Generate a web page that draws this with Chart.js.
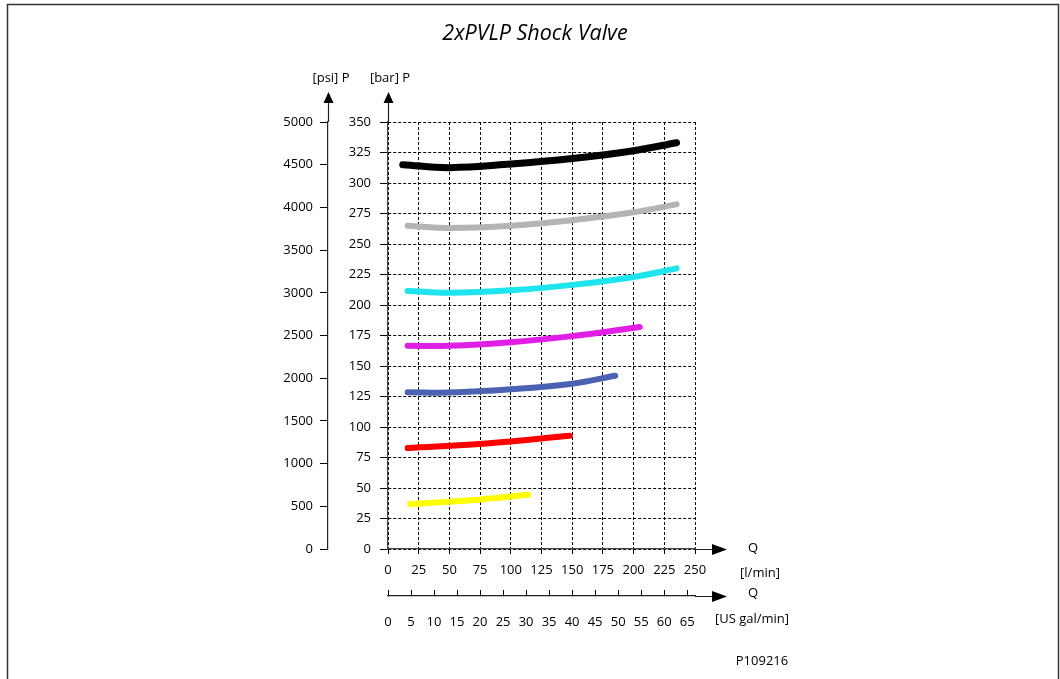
<!DOCTYPE html>
<html>
<head>
<meta charset="utf-8">
<script src="https://cdn.jsdelivr.net/npm/chart.js@4/dist/chart.umd.min.js"></script>
<style>
  html, body { margin: 0; padding: 0; background: #fff; }
  #wrap { width: 1060px; height: 679px; }
</style>
</head>
<body>
<div id="wrap"><canvas id="shockChart" width="1060" height="679"></canvas></div>
<script>
// 2xPVLP shock valve — pressure vs flow, one curve per setting
const title = '2xPVLP Shock Valve';
const barTicks = { min: 0, max: 350, step: 25 };
const psiTicks = { min: 0, max: 5000, step: 500 };
const flowTicks = { min: 0, max: 250, step: 25 };
const galTicks = { min: 0, max: 66.7, step: 5 };

// flow in l/min, pressure in bar
const blackFlow  = [12, 50, 100, 150, 200, 235];
const blackBar   = [315, 312.6, 315.5, 320, 326.5, 333];
const grayFlow   = [16, 50, 100, 150, 200, 235];
const grayBar    = [265, 263.2, 265, 269.5, 276, 282.5];
const cyanFlow   = [16, 50, 100, 150, 200, 235];
const cyanBar    = [211.5, 210, 212, 216.5, 223, 230];
const magentaFlow = [16, 50, 100, 150, 205];
const magentaBar  = [166.5, 166.5, 169.5, 174.5, 182];
const blueFlow   = [16, 50, 100, 150, 185];
const blueBar    = [128.5, 128.3, 131, 135.5, 142];
const redFlow    = [16, 80, 148];
const redBar     = [82.8, 86.5, 92.8];
const yellowFlow = [18, 75, 114];
const yellowBar  = [36.8, 40.6, 44.5];

const pts = (xs, ys) => xs.map((x, i) => ({ x, y: ys[i] }));
const curve = (xs, ys, color, w) => ({
  data: pts(xs, ys), borderColor: color, borderWidth: w || 6,
  borderCapStyle: 'round', pointRadius: 0, tension: 0.4, fill: false
});

Chart.defaults.font.family = "'Open Sans', sans-serif";
Chart.defaults.font.size = 13;
Chart.defaults.color = '#000';

function arrow(ctx, x, y, dir){
  ctx.beginPath();
  if(dir==='up'){ ctx.moveTo(x, y); ctx.lineTo(x-5, y+11); ctx.lineTo(x+5, y+11); }
  else { ctx.moveTo(x, y); ctx.lineTo(x-15, y-5.5); ctx.lineTo(x-15, y+5.5); }
  ctx.closePath(); ctx.fill();
}

const decor = {
  id: 'decor',
  afterDraw(chart){
    const { ctx, chartArea: a, scales } = chart;
    ctx.save();
    // frame
    ctx.strokeStyle = '#333'; ctx.lineWidth = 1.5;
    ctx.beginPath(); ctx.moveTo(7.5, 679); ctx.lineTo(7.5, 4.5); ctx.lineTo(1058.5, 4.5); ctx.lineTo(1058.5, 679); ctx.stroke();
    // axis extensions + arrowheads
    ctx.strokeStyle = '#222'; ctx.fillStyle = '#000'; ctx.lineWidth = 1.2;
    const xBar = scales.y.right + 0.5, xPsi = scales.y2.right + 0.5;
    const yQ = scales.x.top + 0.5, yGal = scales.x2.top + 0.5;
    ctx.beginPath();
    ctx.moveTo(xBar, a.top); ctx.lineTo(xBar, 100);
    ctx.moveTo(xPsi, a.top); ctx.lineTo(xPsi, 100);
    ctx.moveTo(a.right, yQ); ctx.lineTo(714, yQ);
    ctx.moveTo(scales.x2.right, yGal); ctx.lineTo(714, yGal);
    ctx.stroke();
    arrow(ctx, xBar, 92, 'up'); arrow(ctx, xPsi, 92, 'up');
    arrow(ctx, 727, yQ, 'right'); arrow(ctx, 727, yGal, 'right');
    // texts
    ctx.fillStyle = '#000'; ctx.textAlign = 'center'; ctx.textBaseline = 'middle';
    ctx.font = "italic 21.5px 'Open Sans', sans-serif";
    ctx.fillText(title, 535, 34);
    ctx.font = "13px 'Open Sans', sans-serif";
    ctx.fillText('[psi] P', 331, 78);
    ctx.fillText('[bar] P', 390, 78);
    ctx.fillText('Q', 753, yQ - 1);
    ctx.fillText('[l/min]', 760, 573);
    ctx.fillText('Q', 753, yGal - 3);
    ctx.fillText('[US gal/min]', 752, 619);
    ctx.fillText('P109216', 762, 661);
    ctx.restore();
  }
};

const plain = v => String(v);

new Chart(document.getElementById('shockChart'), {
  type: 'line',
  data: { datasets: [
    curve(blackFlow, blackBar, '#000000', 7),
    curve(grayFlow, grayBar, '#b4b4b4'),
    curve(cyanFlow, cyanBar, '#1ee4ee'),
    curve(magentaFlow, magentaBar, '#e01ee6'),
    curve(blueFlow, blueBar, '#4b62b2'),
    curve(redFlow, redBar, '#ff0000'),
    curve(yellowFlow, yellowBar, '#ffff00')
  ] },
  options: {
    responsive: false, animation: false,
    layout: { padding: { left: 268, right: 365, top: 122, bottom: 38 } },
    plugins: { legend: { display: false }, tooltip: { enabled: false }, title: { display: false } },
    scales: {
      x: {
        type: 'linear', position: 'bottom', min: flowTicks.min, max: flowTicks.max, weight: 0,
        afterFit: s => { s.height = 47; },
        ticks: { stepSize: flowTicks.step, autoSkip: false, maxRotation: 0, padding: 8, includeBounds: false, callback: plain },
        grid: { color: '#000', lineWidth: 1, tickLength: 5, tickBorderDash: [] },
        border: { color: '#444', width: 1.2, dash: [3, 2] }
      },
      x2: {
        type: 'linear', position: 'bottom', min: galTicks.min, max: galTicks.max, weight: 1,
        afterFit: s => { s.height = 45; },
        ticks: { stepSize: galTicks.step, autoSkip: false, maxRotation: 0, padding: 24, includeBounds: false, callback: plain },
        grid: { drawOnChartArea: false, color: '#000', tickLength: -6 },
        border: { color: '#222', width: 1.2 }
      },
      y: {
        type: 'linear', position: 'left', min: barTicks.min, max: barTicks.max, weight: 0,
        afterFit: s => { s.width = 60; },
        ticks: { stepSize: barTicks.step, autoSkip: false, padding: 9, includeBounds: false, callback: plain },
        grid: { color: '#000', lineWidth: 1, tickLength: 8, tickBorderDash: [] },
        border: { color: '#444', width: 1.2, dash: [3, 2] }
      },
      y2: {
        type: 'linear', position: 'left', min: psiTicks.min, max: psiTicks.max, weight: 1,
        afterFit: s => { s.width = 60; },
        ticks: { stepSize: psiTicks.step, autoSkip: false, padding: 7, includeBounds: false, callback: plain },
        grid: { drawOnChartArea: false, color: '#000', tickLength: 8 },
        border: { color: '#222', width: 1.2 }
      }
    }
  },
  plugins: [decor]
});
</script>
</body>
</html>
